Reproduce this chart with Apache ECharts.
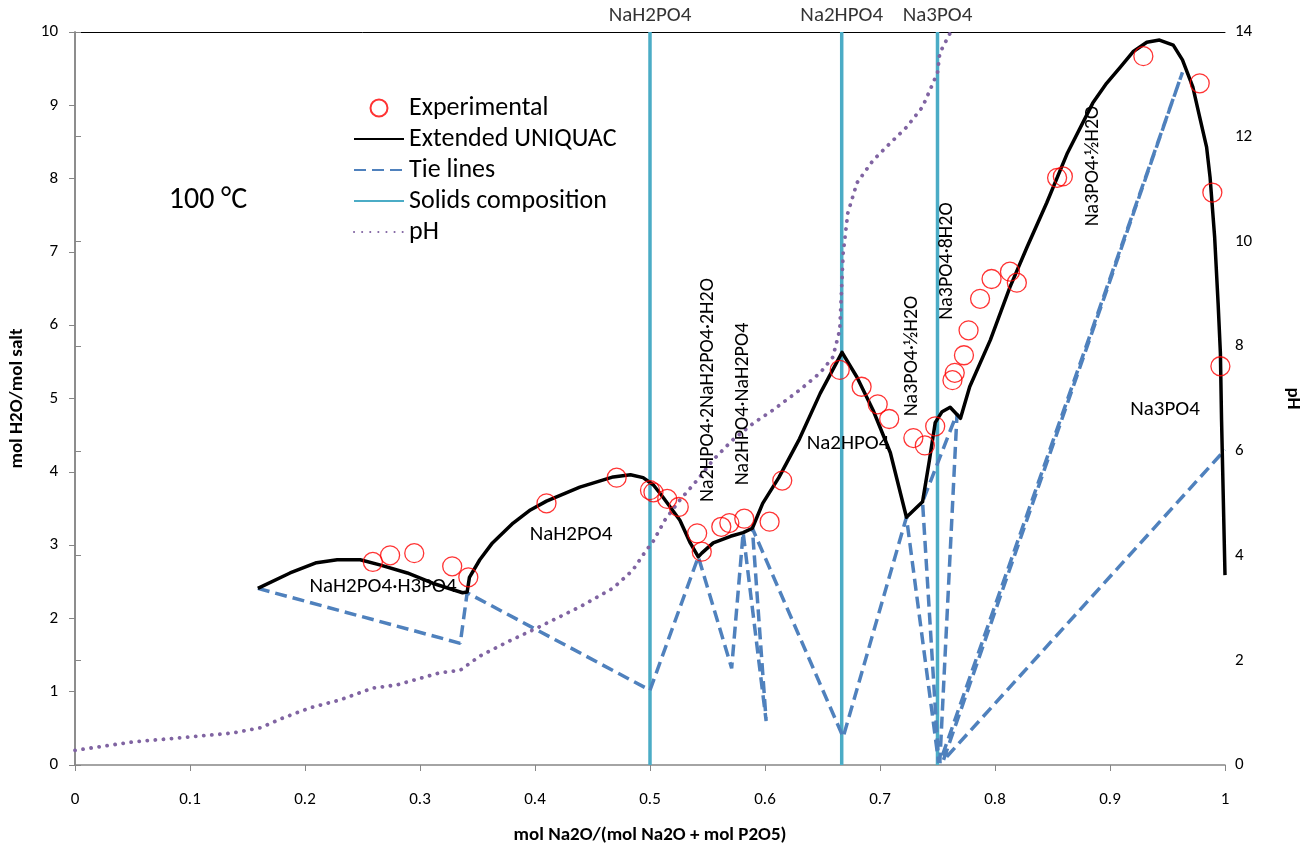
<!DOCTYPE html>
<html>
<head>
<meta charset="utf-8">
<script src="https://cdn.jsdelivr.net/npm/echarts@6/dist/echarts.min.js"></script>
<style>html,body{margin:0;padding:0;background:#fff;}#c{width:1312px;height:848px;}</style>
</head>
<body>
<div id="c"></div>
<script>
// ---- data ----
var experimental = [[0.259,2.77],[0.274,2.86],[0.295,2.89],[0.328,2.71],[0.342,2.56],[0.410,3.57],[0.471,3.92],[0.500,3.75],[0.503,3.72],[0.515,3.63],[0.525,3.52],[0.541,3.16],[0.545,2.91],[0.562,3.25],[0.569,3.30],[0.582,3.36],[0.604,3.32],[0.615,3.88],[0.665,5.39],[0.684,5.16],[0.698,4.92],[0.708,4.72],[0.729,4.46],[0.739,4.36],[0.748,4.62],[0.763,5.25],[0.765,5.35],[0.773,5.59],[0.777,5.93],[0.787,6.36],[0.797,6.63],[0.813,6.73],[0.819,6.58],[0.854,8.01],[0.859,8.03],[0.929,9.67],[0.978,9.30],[0.989,7.81],[0.996,5.44]];
var uniquac = [[0.159,2.41],[0.187,2.62],[0.210,2.76],[0.228,2.80],[0.248,2.80],[0.265,2.73],[0.289,2.62],[0.311,2.48],[0.337,2.35],[0.341,2.36],[0.343,2.56],[0.352,2.80],[0.363,3.03],[0.381,3.30],[0.396,3.48],[0.410,3.60],[0.439,3.79],[0.468,3.93],[0.483,3.96],[0.494,3.92],[0.503,3.82],[0.511,3.66],[0.526,3.34],[0.535,3.03],[0.542,2.84],[0.545,2.89],[0.555,3.03],[0.570,3.12],[0.581,3.17],[0.589,3.23],[0.598,3.57],[0.612,3.92],[0.630,4.45],[0.648,5.07],[0.667,5.63],[0.680,5.29],[0.694,4.84],[0.709,4.26],[0.723,3.38],[0.737,3.59],[0.743,4.16],[0.748,4.67],[0.754,4.82],[0.761,4.88],[0.770,4.73],[0.778,5.16],[0.796,5.80],[0.813,6.52],[0.828,7.07],[0.845,7.67],[0.863,8.35],[0.885,9.03],[0.897,9.30],[0.909,9.52],[0.920,9.73],[0.932,9.86],[0.943,9.89],[0.955,9.82],[0.963,9.62],[0.972,9.25],[0.978,8.84],[0.984,8.43],[0.987,8.02],[0.991,7.20],[0.994,6.30],[0.996,5.62],[0.997,4.71],[1.0,2.59]];
var tieLines = [[0.159,2.41],[0.335,1.66],[0.341,2.35],[0.500,1.02],[0.542,2.84],[0.571,1.32],[0.581,3.17],[0.601,0.60],[0.589,3.23],[0.668,0.38],[0.723,3.38],[0.751,0.03],[0.737,3.59],[0.767,4.80],[0.752,0.03],[0.963,9.45],[0.755,0.06],[1.0,4.3]];
var solidsX = [0.5, 0.6667, 0.75];
var solidsNames = ['NaH2PO4', 'Na2HPO4', 'Na3PO4'];
var solidsTop = 10;
var pH = [[0.0,0.28],[0.050,0.44],[0.097,0.53],[0.137,0.61],[0.161,0.71],[0.181,0.90],[0.204,1.09],[0.230,1.24],[0.259,1.47],[0.280,1.53],[0.317,1.76],[0.335,1.81],[0.352,2.08],[0.376,2.35],[0.402,2.62],[0.439,3.02],[0.468,3.38],[0.485,3.72],[0.497,4.11],[0.502,4.24],[0.513,4.68],[0.526,5.06],[0.541,5.44],[0.555,5.83],[0.572,6.21],[0.590,6.53],[0.607,6.78],[0.630,7.16],[0.648,7.49],[0.659,7.79],[0.665,8.31],[0.668,9.78],[0.672,10.54],[0.680,11.12],[0.694,11.55],[0.709,11.88],[0.723,12.18],[0.737,12.57],[0.750,13.22],[0.752,13.60],[0.761,13.98]];
var xTicks = {min:0, max:1, interval:0.1};
var yTicks = {min:0, max:10, interval:1};
var pHTicks = {min:0, max:14, interval:2};

// ---- build ----
var FONT = 'Carlito, Lato, sans-serif';
var solidsData = [];
solidsX.forEach(function(x, i){ if(i) solidsData.push(null); solidsData.push([x,0]); solidsData.push([x,solidsTop]); });
var solidsLabelData = solidsX.map(function(x, i){ return {value:[x, solidsTop], name: solidsNames[i]}; });

var chart = echarts.init(document.getElementById('c'), null, {renderer:'canvas'});
function txt(t, x, y, size, rot){
  return {type:'text', x:x, y:y, rotation: rot||0, style:{text:t, font: size+'px '+FONT, fill:'#000', textAlign:'center', textVerticalAlign:'middle'}, z:100};
}
var hidden = {color:'rgba(0,0,0,0)', borderColor:'rgba(0,0,0,0)', borderWidth:0};
var option = {
  animation:false,
  backgroundColor:'#fff',
  grid:{left:75, right:87, top:32, bottom:83, containLabel:false, outerBoundsMode:'none'},
  legend:{
    orient:'vertical', left:348, top:90, itemWidth:50, itemHeight:17, itemGap:5,
    textStyle:{fontFamily:FONT, fontSize:26, color:'#000'},
    data:[
      {name:'Experimental'},
      {name:'Extended UNIQUAC', itemStyle:hidden},
      {name:'Tie lines', itemStyle:hidden},
      {name:'Solids composition', itemStyle:hidden},
      {name:'pH', itemStyle:hidden}
    ]
  },
  xAxis:[{
    type:'value', min:xTicks.min, max:xTicks.max, interval:xTicks.interval,
    name:'mol Na2O/(mol Na2O + mol P2O5)', nameLocation:'middle', nameGap:61,
    nameTextStyle:{fontFamily:FONT, fontWeight:'bold', fontSize:19, color:'#000'},
    axisLine:{show:true, lineStyle:{color:'#868686', width:1.5}},
    axisTick:{show:true, inside:false, length:6, lineStyle:{color:'#868686'}},
    axisLabel:{fontFamily:FONT, fontSize:17, color:'#000', margin:26},
    splitLine:{show:false}
  },{
    type:'value', position:'top', min:0, max:1,
    axisLine:{show:true, onZero:false, lineStyle:{color:'#000', width:1}},
    axisTick:{show:false}, axisLabel:{show:false}, splitLine:{show:false}
  }],
  yAxis:[{
    type:'value', min:yTicks.min, max:yTicks.max, interval:yTicks.interval,
    name:'mol H2O/mol salt', nameLocation:'middle', nameGap:48, nameRotate:90,
    nameTextStyle:{fontFamily:FONT, fontWeight:'bold', fontSize:19, color:'#000'},
    axisLine:{show:true, lineStyle:{color:'#868686', width:1.5}},
    axisTick:{show:true, length:6, lineStyle:{color:'#868686'}},
    axisLabel:{fontFamily:FONT, fontSize:17, color:'#000', margin:17},
    splitLine:{show:false}
  },{
    type:'value', position:'right', min:pHTicks.min, max:pHTicks.max, interval:pHTicks.interval,
    name:'pH', nameLocation:'middle', nameGap:58, nameRotate:-90,
    nameTextStyle:{fontFamily:FONT, fontWeight:'bold', fontSize:19, color:'#000'},
    axisLine:{show:true, lineStyle:{color:'#868686', width:1.5}},
    axisTick:{show:true, length:6, lineStyle:{color:'#868686'}},
    axisLabel:{fontFamily:FONT, fontSize:17, color:'#000', margin:10},
    splitLine:{show:false}
  }],
  series:[
    {name:'Solids composition', type:'line', data:solidsData, symbol:'none', connectNulls:false,
     lineStyle:{color:'#4BACC6', width:3.5}, itemStyle:{color:'#4BACC6'}, z:2},
    {name:'Tie lines', type:'line', data:tieLines, symbol:'none',
     lineStyle:{color:'#4F81BD', width:3.5, type:[12,6]}, itemStyle:{color:'#4F81BD'}, z:3},
    {name:'pH', type:'line', yAxisIndex:1, data:pH, symbol:'none',
     lineStyle:{color:'#8064A2', width:3.8, type:[0.1,8], cap:'round'}, itemStyle:{color:'#8064A2'}, z:3},
    {name:'Extended UNIQUAC', type:'line', data:uniquac, symbol:'none',
     lineStyle:{color:'#000', width:3.5, join:'round'}, itemStyle:{color:'#000'}, z:4},
    {name:'Experimental', type:'scatter', data:experimental, symbol:'circle', symbolSize:19,
     itemStyle:{color:'rgba(255,255,255,0)', borderColor:'#FF0000', borderWidth:1.3}, z:5},
    {name:'solidsLabels', type:'scatter', data:solidsLabelData, symbolSize:0, silent:true,
     label:{show:true, position:'top', distance:6, formatter:'{b}', fontFamily:FONT, fontSize:21, color:'#000'}, z:6}
  ],
  graphic:[
    txt('100 °C', 208, 200, 30),
    txt('NaH2PO4·H3PO4', 383, 587, 21),
    txt('NaH2PO4', 571, 535, 21),
    txt('Na2HPO4', 848, 444, 21),
    txt('Na3PO4', 1165, 410, 21),
    txt('Na2HPO4·2NaH2PO4·2H2O', 708, 390, 20, Math.PI/2),
    txt('Na2HPO4·NaH2PO4', 743, 404, 20, Math.PI/2),
    txt('Na3PO4·½H2O', 912, 356, 20, Math.PI/2),
    txt('Na3PO4·8H2O', 947, 261, 20, Math.PI/2),
    txt('Na3PO4·½H2O', 1093, 166, 20, Math.PI/2)
  ]
};
chart.setOption(option);
</script>
</body>
</html>
